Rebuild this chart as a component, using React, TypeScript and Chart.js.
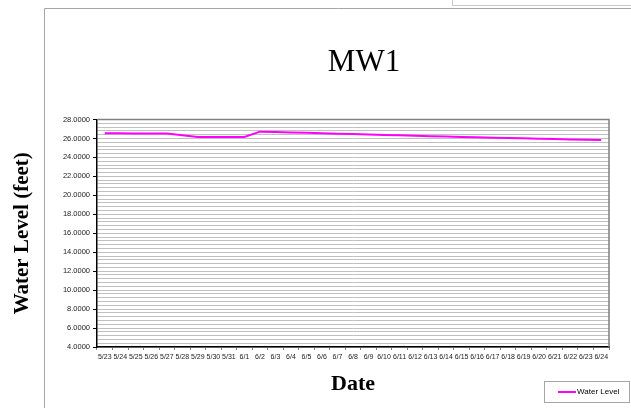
import React, { useEffect, useRef } from 'react';
import { Chart, registerables } from 'chart.js';

Chart.register(...registerables);

const chartTitle = 'MW1';
const xAxisTitle = 'Date';
const yAxisTitle = 'Water Level (feet)';
const seriesName = 'Water Level';

const dates = [
  '5/23', '5/24', '5/25', '5/26', '5/27', '5/28', '5/29', '5/30', '5/31',
  '6/1', '6/2', '6/3', '6/4', '6/5', '6/6', '6/7', '6/8', '6/9', '6/10',
  '6/11', '6/12', '6/13', '6/14', '6/15', '6/16', '6/17', '6/18', '6/19',
  '6/20', '6/21', '6/22', '6/23', '6/24',
];

const waterLevel = [
  26.54, 26.54, 26.53, 26.53, 26.52, 26.34, 26.15, 26.16, 26.16,
  26.15, 26.72, 26.69, 26.64, 26.60, 26.55, 26.50, 26.46, 26.41, 26.37,
  26.33, 26.29, 26.24, 26.20, 26.16, 26.12, 26.08, 26.04, 26.01,
  25.97, 25.94, 25.90, 25.87, 25.84,
];

const yMin = 4;
const yMax = 28;
const yGridStep = 0.4;
const yLabelStep = 2;

const isLabelTick = (v: number) => Math.abs(v / yLabelStep - Math.round(v / yLabelStep)) < 1e-6;

const decorations = {
  id: 'decorations',
  afterLayout(chart: any) {
    const t = chart.titleBlock;
    if (t) {
      t.left = 44;
      t.right = 684;
    }
  },
  beforeDraw(chart: any) {
    const ctx = chart.ctx;
    ctx.save();
    ctx.fillStyle = '#ffffff';
    ctx.fillRect(0, 0, chart.width, chart.height);
    ctx.strokeStyle = '#a6a6a6';
    ctx.lineWidth = 1;
    // outer chart frame
    ctx.beginPath();
    ctx.moveTo(44.5, chart.height + 2);
    ctx.lineTo(44.5, 8.5);
    ctx.lineTo(chart.width + 2, 8.5);
    ctx.stroke();
    // neighbouring frame at top right
    ctx.strokeStyle = '#c8c8c8';
    ctx.beginPath();
    ctx.moveTo(452.5, -2);
    ctx.lineTo(452.5, 5.5);
    ctx.lineTo(chart.width + 2, 5.5);
    ctx.stroke();
    ctx.restore();
  },
  beforeDatasetsDraw(chart: any) {
    const { ctx, chartArea } = chart;
    ctx.save();
    ctx.strokeStyle = '#808080';
    ctx.lineWidth = 1.5;
    ctx.beginPath();
    ctx.moveTo(chartArea.left, chartArea.top);
    ctx.lineTo(chartArea.right, chartArea.top);
    ctx.lineTo(chartArea.right, chartArea.bottom);
    ctx.stroke();
    ctx.restore();
  },
  afterDraw(chart: any) {
    const ctx = chart.ctx;
    const ds = chart.data.datasets[0];
    ctx.save();
    ctx.fillStyle = '#ffffff';
    ctx.fillRect(544.5, 381.5, 85, 21);
    ctx.strokeStyle = '#a6a6a6';
    ctx.lineWidth = 1;
    ctx.strokeRect(544.5, 381.5, 85, 21);
    ctx.strokeStyle = ds.borderColor;
    ctx.lineWidth = 2;
    ctx.beginPath();
    ctx.moveTo(558, 392);
    ctx.lineTo(576, 392);
    ctx.stroke();
    ctx.fillStyle = '#000000';
    ctx.font = '8px "Liberation Sans", Arial, sans-serif';
    ctx.textBaseline = 'middle';
    ctx.textAlign = 'left';
    ctx.fillText(ds.label, 577, 392);
    ctx.restore();
  },
};

export default function App() {
  const canvasRef = useRef<HTMLCanvasElement | null>(null);

  useEffect(() => {
    const canvas = canvasRef.current;
    if (!canvas) return;
    const chart = new Chart(canvas, {
      type: 'line',
      data: {
        labels: dates,
        datasets: [
          {
            label: seriesName,
            data: waterLevel,
            borderColor: '#FF00FF',
            backgroundColor: '#FF00FF',
            borderWidth: 2,
            pointRadius: 0,
            pointHoverRadius: 0,
            tension: 0,
            fill: false,
          },
        ],
      },
      options: {
        responsive: false,
        animation: false,
        devicePixelRatio: 1,
        layout: { padding: { left: 0, right: 22, top: 0, bottom: 0 } },
        plugins: {
          legend: { display: false },
          tooltip: { enabled: false },
          title: {
            display: true,
            text: chartTitle,
            color: '#000000',
            font: { family: '"Liberation Serif", "Times New Roman", serif', size: 31, weight: 'normal', lineHeight: 1.2 },
            padding: { top: 43.8, bottom: 38.5 },
          },
        },
        scales: {
          x: {
            type: 'category',
            offset: true,
            afterFit(scale: any) {
              scale.height = 61;
            },
            ticks: {
              autoSkip: false,
              maxRotation: 0,
              minRotation: 0,
              padding: 3,
              color: '#1a1a1a',
              font: { family: '"Liberation Sans", Arial, sans-serif', size: 7 },
            },
            grid: {
              drawOnChartArea: false,
              offset: true,
              tickLength: 3,
              color: '#808080',
            },
            border: { color: '#000000', width: 1.5 },
            title: {
              display: true,
              text: xAxisTitle,
              color: '#000000',
              font: { family: '"Liberation Serif", "Times New Roman", serif', size: 22, weight: 'bold', lineHeight: 1.2 },
              padding: { top: 0, bottom: 10 },
            },
          },
          y: {
            type: 'linear',
            min: yMin,
            max: yMax,
            afterFit(scale: any) {
              scale.width = 97;
            },
            afterBuildTicks(scale: any) {
              const n = Math.round((yMax - yMin) / yGridStep);
              const t = [];
              for (let i = 0; i <= n; i++) {
                t.push({ value: Math.round((yMin + i * yGridStep) * 10) / 10 });
              }
              scale.ticks = t;
            },
            ticks: {
              autoSkip: false,
              padding: 3,
              color: '#1a1a1a',
              font: { family: '"Liberation Sans", Arial, sans-serif', size: 7.5 },
              callback: (v: any) => (isLabelTick(Number(v)) ? Number(v).toFixed(4) : ''),
            },
            grid: {
              color: '#c0c0c0',
              lineWidth: 1,
              tickLength: 4,
              tickColor: (ctx: any) => (ctx.tick && isLabelTick(ctx.tick.value) ? '#000000' : 'rgba(0,0,0,0)'),
            },
            border: { color: '#000000', width: 1.5 },
            title: {
              display: true,
              text: yAxisTitle,
              color: '#000000',
              font: { family: '"Liberation Serif", "Times New Roman", serif', size: 21, weight: 'bold', lineHeight: 1.2 },
              padding: { top: 10, bottom: 0 },
            },
          },
        },
      },
      plugins: [decorations],
    });
    return () => chart.destroy();
  }, []);

  return (
    <div style={{ position: 'fixed', left: 0, top: 0, width: 631, height: 408, background: '#fff' }}>
      <canvas ref={canvasRef} width={631} height={408} style={{ display: 'block' }} />
    </div>
  );
}
